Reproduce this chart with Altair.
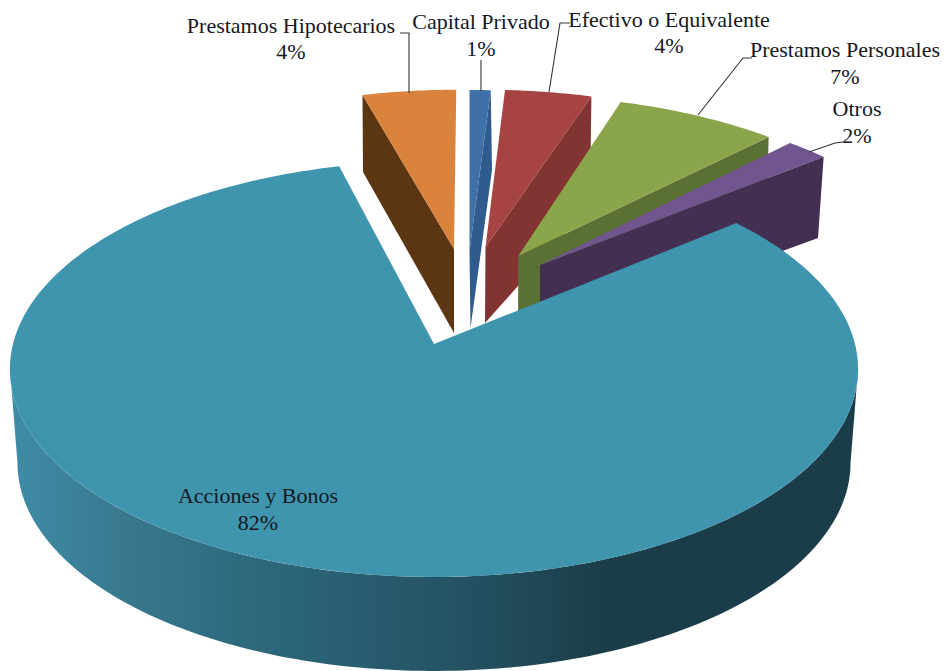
import altair as alt
import numpy as np
import pandas as pd

# --- chart values
categories = ["Acciones y Bonos", "Prestamos Hipotecarios", "Capital Privado",
              "Efectivo o Equivalente", "Prestamos Personales", "Otros"]
shares = [81.9, 4.0, 0.9, 3.7, 6.9, 1.8]
percent_labels = ["82%", "4%", "1%", "4%", "7%", "2%"]
top_colors = ["#4095AE", "#D9833C", "#3F70A8", "#A64444", "#8BA64A", "#70558F"]
wall_colors = ["#1B3D4A", "#5C3513", "#2F5B8F", "#823433", "#5B7033", "#422F52"]

# --- view geometry of the tilted pie (screen pixels)
START_DEG = 50.6
K = 0.12
TOP = dict(cx=434, cy=344, rx=421, ry=205)
BOTTOM = dict(cx=434, cy=438, rx=413.5, ry=205)

# exploded slices: [corner where the arc starts, apex, apex foot, outer foot]
exploded = {
    "Prestamos Hipotecarios": dict(anchor=(362.5, 95), apex=(454, 249), foot=(454, 333), outer=(363, 172), side="start"),
    "Capital Privado": dict(anchor=(469.5, 90), apex=(469.5, 251), foot=(470.5, 328), outer=(492, 170), side="end"),
    "Efectivo o Equivalente": dict(anchor=(505, 90), apex=(485.5, 247), foot=(485, 323), outer=(590, 205), side="end"),
    "Prestamos Personales": dict(anchor=(620.7, 102), apex=(518.3, 256), foot=(518, 332), outer=(766.7, 211), side="end"),
    "Otros": dict(anchor=(790, 143), apex=(540, 265), foot=(540, 340), outer=(818, 238), side="end"),
}

label_pos = {
    "Acciones y Bonos": (258, 496, 523),
    "Prestamos Hipotecarios": (291, 26, 52),
    "Capital Privado": (481, 22, 49),
    "Efectivo o Equivalente": (669, 20, 46),
    "Prestamos Personales": (845, 50, 77),
    "Otros": (857, 109, 136),
}
leaders = {
    "Prestamos Hipotecarios": [(400, 33), (409, 33), (409, 93)],
    "Capital Privado": [(481, 60), (481, 91)],
    "Efectivo o Equivalente": [(570, 23), (560, 23), (549, 92)],
    "Prestamos Personales": [(752, 58), (743, 58), (698, 115)],
    "Otros": [(843, 142), (835, 143), (809, 152)],
}


def proj(theta, e=TOP):
    t = np.radians(theta)
    u, v = np.sin(t), np.cos(t)
    w = 1 + K * v
    return e["cx"] + e["rx"] * u / w, e["cy"] - e["ry"] * v / w


def poly(points):
    pts = np.asarray(points, dtype=float)
    return pd.DataFrame({"x": pts[:, 0], "y": pts[:, 1], "i": np.arange(len(pts))})


X = alt.X("x:Q", scale=alt.Scale(domain=[8, 940]), axis=None)
Y = alt.Y("y:Q", scale=alt.Scale(domain=[671, 8]), axis=None)


def shape(points, fill):
    return alt.Chart(poly(points)).mark_line(
        filled=True, fill=fill, strokeWidth=0, interpolate="linear-closed"
    ).encode(x=X, y=Y, order="i:Q")


# cumulative angles from the shares
spans = [s / 100 * 360 for s in shares]
starts = {}
a = START_DEG
for c, sp in zip(categories, spans):
    starts[c] = (a, a + sp)
    a += sp

layers = []
for c, top, wall in list(zip(categories, top_colors, wall_colors))[1:]:
    a0, a1 = starts[c]
    th = np.linspace(a0, a1, 24)
    px, py = proj(th)
    g = exploded[c]
    dx, dy = g["anchor"][0] - px[0], g["anchor"][1] - py[0]
    arc = np.column_stack([px + dx, py + dy])
    rim = arc[0] if g["side"] == "start" else arc[-1]
    layers.append(shape([rim, g["apex"], g["foot"], g["outer"]], wall))
    layers.append(shape([g["apex"], *arc], top))

# big slice: side wall with horizontal shading, then top
side_th = np.linspace(96.9, 263.1, 160)
tx, ty = proj(side_th)
bx, by = proj(side_th[::-1], BOTTOM)
side_pts = np.column_stack([np.r_[tx, bx], np.r_[ty, by]])
stops = [(0.0, "#3F8CA8"), (0.106, "#3A7C93"), (0.27, "#2E6A7E"), (0.46, "#26586A"),
         (0.554, "#235060"), (0.70, "#1B3D4A"), (1.0, "#1B3D4A")]
gradient = alt.Gradient(gradient="linear", x1=0, x2=1, y1=0, y2=0,
                        stops=[alt.GradientStop(offset=o, color=col) for o, col in stops])
layers.append(shape(side_pts, gradient))
a0, a1 = starts[categories[0]]
px, py = proj(np.linspace(a0, a1, 300))
layers.append(shape(np.column_stack([np.r_[434, px], np.r_[344, py]]), top_colors[0]))

# leader lines
for c, pts in leaders.items():
    layers.append(alt.Chart(poly(pts)).mark_line(color="#33363a", strokeWidth=1.1).encode(x=X, y=Y, order="i:Q"))

# labels
rows = []
for c, pct in zip(categories, percent_labels):
    lx, y1, y2 = label_pos[c]
    rows.append({"x": lx, "y": y1, "t": c})
    rows.append({"x": lx, "y": y2, "t": pct})
layers.append(alt.Chart(pd.DataFrame(rows)).mark_text(
    font="Liberation Serif", fontSize=22, color="#14181f", align="center", baseline="middle"
).encode(x=X, y=Y, text="t:N"))

chart = alt.layer(*layers).properties(
    width=932, height=663, padding=0, autosize=alt.AutoSizeParams(type="none"),
    background="white",
).configure_view(stroke=None)

chart.save("out.html", embed_options={"renderer": "svg", "actions": False})
